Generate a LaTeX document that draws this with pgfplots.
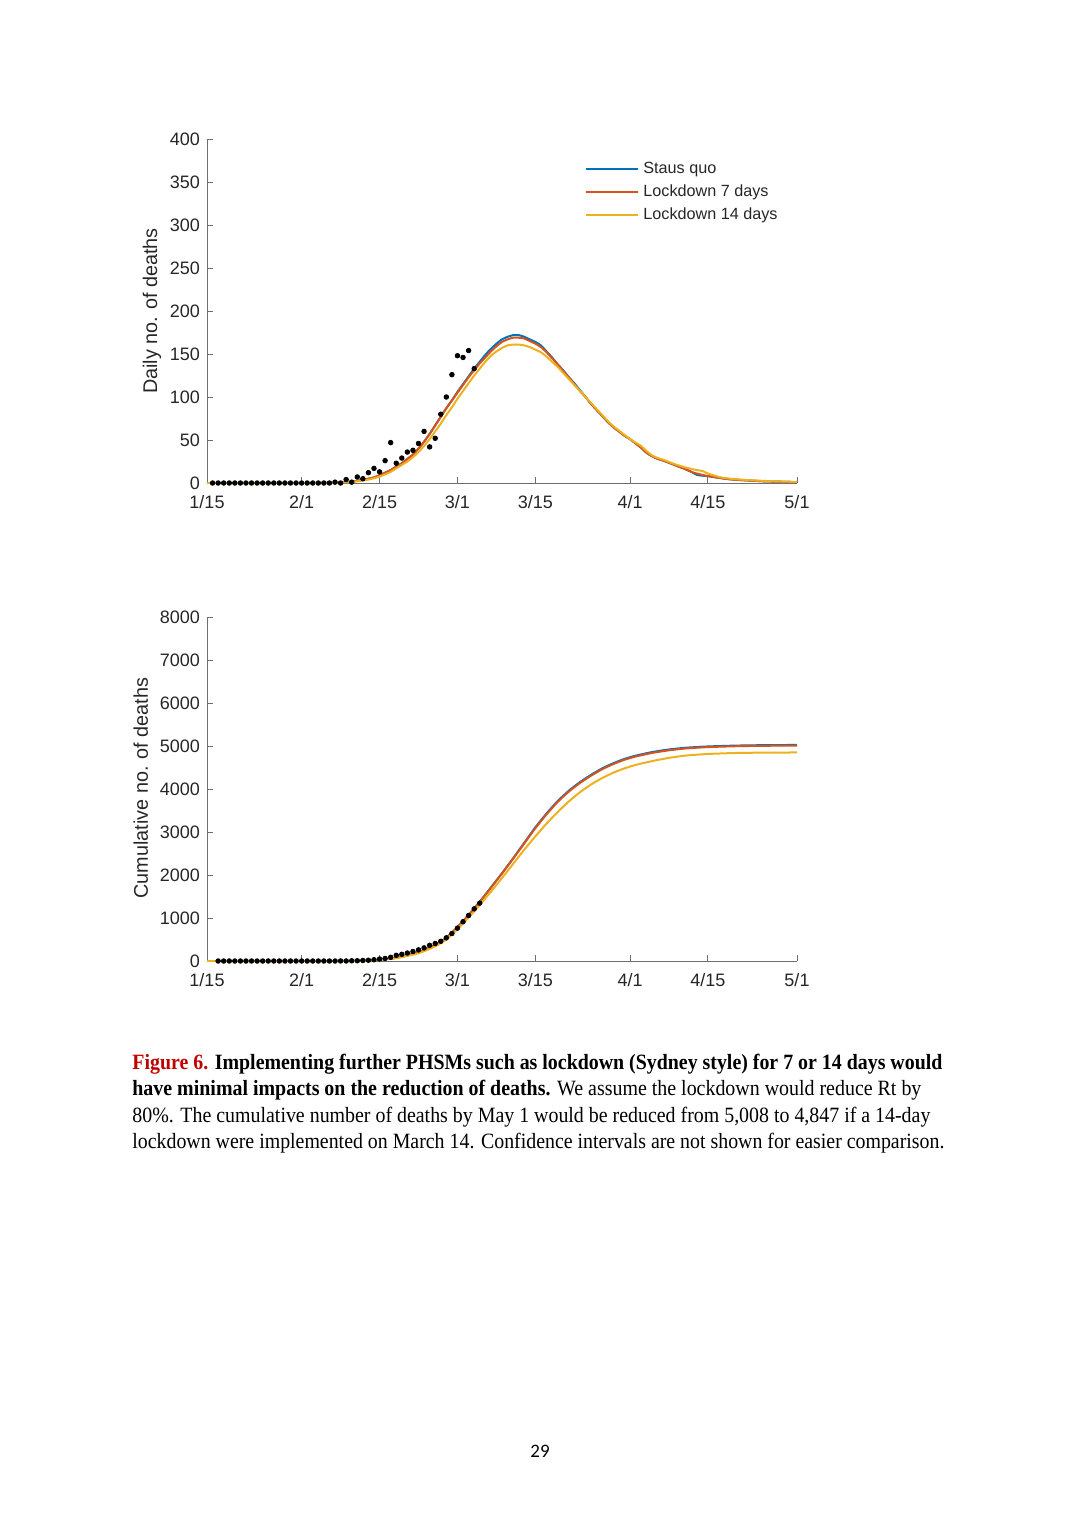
\documentclass[border=0pt]{standalone}
\usepackage{pgfplots}
\pgfplotsset{compat=1.18}
\usepackage{fontspec}
\setmainfont{Liberation Sans}
\newfontfamily\capfont{Liberation Serif}
\newfontfamily\pagefont{Carlito}
\definecolor{mblue}{rgb}{0,0.447,0.741}
\definecolor{mred}{rgb}{0.85,0.325,0.098}
\definecolor{myellow}{rgb}{0.929,0.694,0.125}
\definecolor{figred}{RGB}{192,0,0}
\definecolor{axgray}{RGB}{110,110,110}
\definecolor{txtgray}{RGB}{38,38,38}

\pgfplotstableread{
d v
0 0
20 0
23 0.3
25 1
27 2.5
29 5
30 6.5
31 9
32 12
33 15
34 19
35 23
36 28
37 33
38 40
39 48
40 57
41 67
42 77
43 87
44 96
45 106
46 115
47 124
48 133
49 141
50 149
51 156
52 162
53 167
54 170
55 172
56 172
57 170
58 167
59 164
60 160
61 153
62 146
63 138
64 131
65 123
66 116
67 108
68 100
69 92
70 85
71 78
72 71
73 65
74 60
75 55
76 51
77 46
78 41
79 35
80 31
81 28
82 26
84 21
86 16
87 13
88 9.5
89 8.5
90 8
92 6
94 4.3
97 3
100 2
103 1.5
106 1
}\dblue

\pgfplotstableread{
d v
0 0
20 0
23 0.3
25 1
27 2.5
29 5
30 6.5
31 9
32 12
33 15
34 19
35 23
36 28
37 33
38 40
39 48
40 57
41 67
42 77
43 87
44 96
45 105
46 114
47 123
48 131
49 139
50 146
51 153
52 159
53 164
54 167
55 169
56 169
57 168
58 165
59 162
60 158
61 152
62 145
63 138
64 130
65 123
66 115
67 107
68 100
69 92
70 85
71 78
72 71
73 65
74 60
75 55
76 51
77 46
78 41
79 35
80 31
81 28
82 26
84 21
86 16
87 13
88 11
89 9.5
90 8
92 6
94 4.3
97 3
100 2
103 1.5
106 1
}\dred

\pgfplotstableread{
d v
0 0
20 0
23 0.2
25 0.8
27 2
29 4
30 5.5
31 7.5
32 10
33 13
34 17
35 21
36 25
37 30
38 36
39 43
40 51
41 60
42 69
43 79
44 88
45 98
46 107
47 116
48 125
49 133
50 141
51 148
52 153
53 157
54 160
55 161
56 161
57 160
58 158
59 155
60 152
61 147
62 141
63 135
64 128
65 121
66 114
67 107
68 100
69 93
70 86
71 79
72 72
73 66
74 61
75 56
76 51
77 47
78 43
79 37
80 32
81 29
82 27
84 22
86 18
88 15
89 14
90 11
92 7
94 5
97 3.5
100 2.5
103 1.8
106 1.2
}\dyellow

\pgfplotstableread{
d v
1 0
2 0
3 0
4 0
5 0
6 0
7 0
8 0
9 0
10 0
11 0
12 0
13 0
14 0
15 0
16 0
17 0
18 0
19 0
20 0
21 0
22 0
23 1
24 0
25 4
26 1
27 7
28 5
29 12
30 17
31 13
32 26
33 47
34 23
35 29
36 36
37 38
38 46
39 60
40 42
41 52
42 80
43 100
44 126
45 148
46 146
47 154
48 133
}\ddots

\pgfplotstableread{
d v
0 0
22 0
26 4
30 22
34 75
38 200
41 370
43 540
45 790
47 1070
49 1380
51 1710
53 2040
55 2390
57 2750
59 3110
61 3430
63 3720
65 3960
67 4160
69 4330
71 4480
73 4600
75 4700
77 4775
80 4860
83 4920
86 4960
90 4990
95 5010
100 5020
106 5025
}\cblue

\pgfplotstableread{
d v
0 0
22 0
26 4
30 22
34 75
38 200
41 370
43 540
45 790
47 1068
49 1375
51 1700
53 2035
55 2380
57 2735
59 3090
61 3410
63 3700
65 3940
67 4140
69 4310
71 4460
73 4580
75 4680
77 4755
80 4840
83 4900
86 4943
90 4975
95 4995
100 5005
106 5010
}\cred

\pgfplotstableread{
d v
0 0
22 0
26 3
30 18
34 65
38 180
41 340
43 500
45 740
47 1010
49 1300
51 1610
53 1930
55 2260
57 2590
59 2900
61 3195
63 3465
65 3710
67 3925
69 4105
71 4255
73 4380
75 4480
77 4560
80 4650
83 4725
86 4778
90 4815
95 4838
100 4846
106 4850
}\cyellow

\pgfplotstableread{
d v
2 0
3 0
4 0
5 0
6 0
7 0
8 0
9 0
10 0
11 0
12 0
13 0
14 0
15 0
16 0
17 0
18 0
19 0
20 0
21 0
22 0
23 0
24 1
25 1
26 5
27 6
28 13
29 18
30 30
31 47
32 60
33 86
34 133
35 156
36 185
37 221
38 259
39 305
40 365
41 407
42 459
43 539
44 639
45 765
46 913
47 1059
48 1213
49 1346
}\cdots

\pgfplotsset{
  myaxis/.style={
    scale only axis, width=295pt, height=172pt,
    xmin=0, xmax=106,
    axis lines*=left,
    tick align=inside,
    major tick length=3pt,
    xtick={0,17,31,45,59,76,90,106},
    xticklabels={1/15,2/1,2/15,3/1,3/15,4/1,4/15,5/1},
    tick label style={font=\fontsize{9}{10}\selectfont, text=txtgray},
    xticklabel style={yshift=-2.5pt},
    label style={font=\fontsize{9.9}{11}\selectfont, text=txtgray},
    axis line style={axgray, line width=0.5pt},
    every tick/.style={axgray, line width=0.5pt},
    /pgf/number format/assume math mode=true,
    /pgf/number format/set thousands separator={},
    scaled y ticks=false,
    line join=round,
  },
  crv/.style={line width=1pt, no markers, smooth, tension=0.3},
  dts/.style={only marks, mark=*, mark size=1.15pt, black},
}

\begin{document}
\begin{tikzpicture}[x=0.5pt,y=-0.5pt]
\path[use as bounding box] (0,0) rectangle (1080,1528);
\coordinate (TopO) at (207,483);
\coordinate (BotO) at (207,961);

\begin{axis}[myaxis, at={(TopO)}, anchor=origin,
  ymin=0, ymax=400, ytick={0,50,...,400},
  ylabel={Daily no. of deaths},
  ylabel style={at={(axis description cs:-0.093,0.5)}, anchor=center},
  legend style={at={(rel axis cs:0.6407,0.936)}, anchor=north west, draw=none, fill=none,
    inner sep=0pt, font=\fontsize{8.1}{9}\selectfont, text=txtgray,
    nodes={inner ysep=0pt, text height=6pt, text depth=1.5pt}, row sep=4pt},
  legend cell align=left,
  legend image code/.code={\draw[#1] (0pt,0pt) -- (26pt,0pt);},
]
\addplot[crv, mblue] table[x=d,y=v] {\dblue};
\addlegendentry{Staus quo}
\addplot[crv, mred] table[x=d,y=v] {\dred};
\addlegendentry{Lockdown 7 days}
\addplot[crv, myellow] table[x=d,y=v] {\dyellow};
\addlegendentry{Lockdown 14 days}
\addplot[dts, forget plot] table[x=d,y=v] {\ddots};
\end{axis}

\begin{axis}[myaxis, at={(BotO)}, anchor=origin,
  ymin=0, ymax=8000, ytick={0,1000,...,8000},
  ylabel={Cumulative no. of deaths},
  ylabel style={at={(axis description cs:-0.112,0.503)}, anchor=center},
]
\addplot[crv, mblue] table[x=d,y=v] {\cblue};
\addplot[crv, mred] table[x=d,y=v] {\cred};
\addplot[crv, myellow] table[x=d,y=v] {\cyellow};
\addplot[dts] table[x=d,y=v] {\cdots};
\end{axis}

\begin{scope}[every node/.style={anchor=base west, inner sep=0pt, font=\capfont\fontsize{10.9}{13}\selectfont}]
\node at (132,1069) {\resizebox{405pt}{\height}{\bfseries\textcolor{figred}{Figure 6.} Implementing further PHSMs such as lockdown (Sydney style) for 7 or 14 days would}};
\node at (132,1095.7) {\resizebox{394.5pt}{\height}{\textbf{have minimal impacts on the reduction of deaths.} We assume the lockdown would reduce Rt by}};
\node at (132,1122.3) {\resizebox{399pt}{\height}{80\%. The cumulative number of deaths by May 1 would be reduced from 5,008 to 4,847 if a 14-day}};
\node at (132,1148.8) {\resizebox{406pt}{\height}{lockdown were implemented on March 14. Confidence intervals are not shown for easier comparison.}};
\end{scope}
\node[anchor=base, inner sep=0pt, font=\pagefont\fontsize{9.5}{11}\selectfont] at (540,1457) {29};
\end{tikzpicture}
\end{document}
